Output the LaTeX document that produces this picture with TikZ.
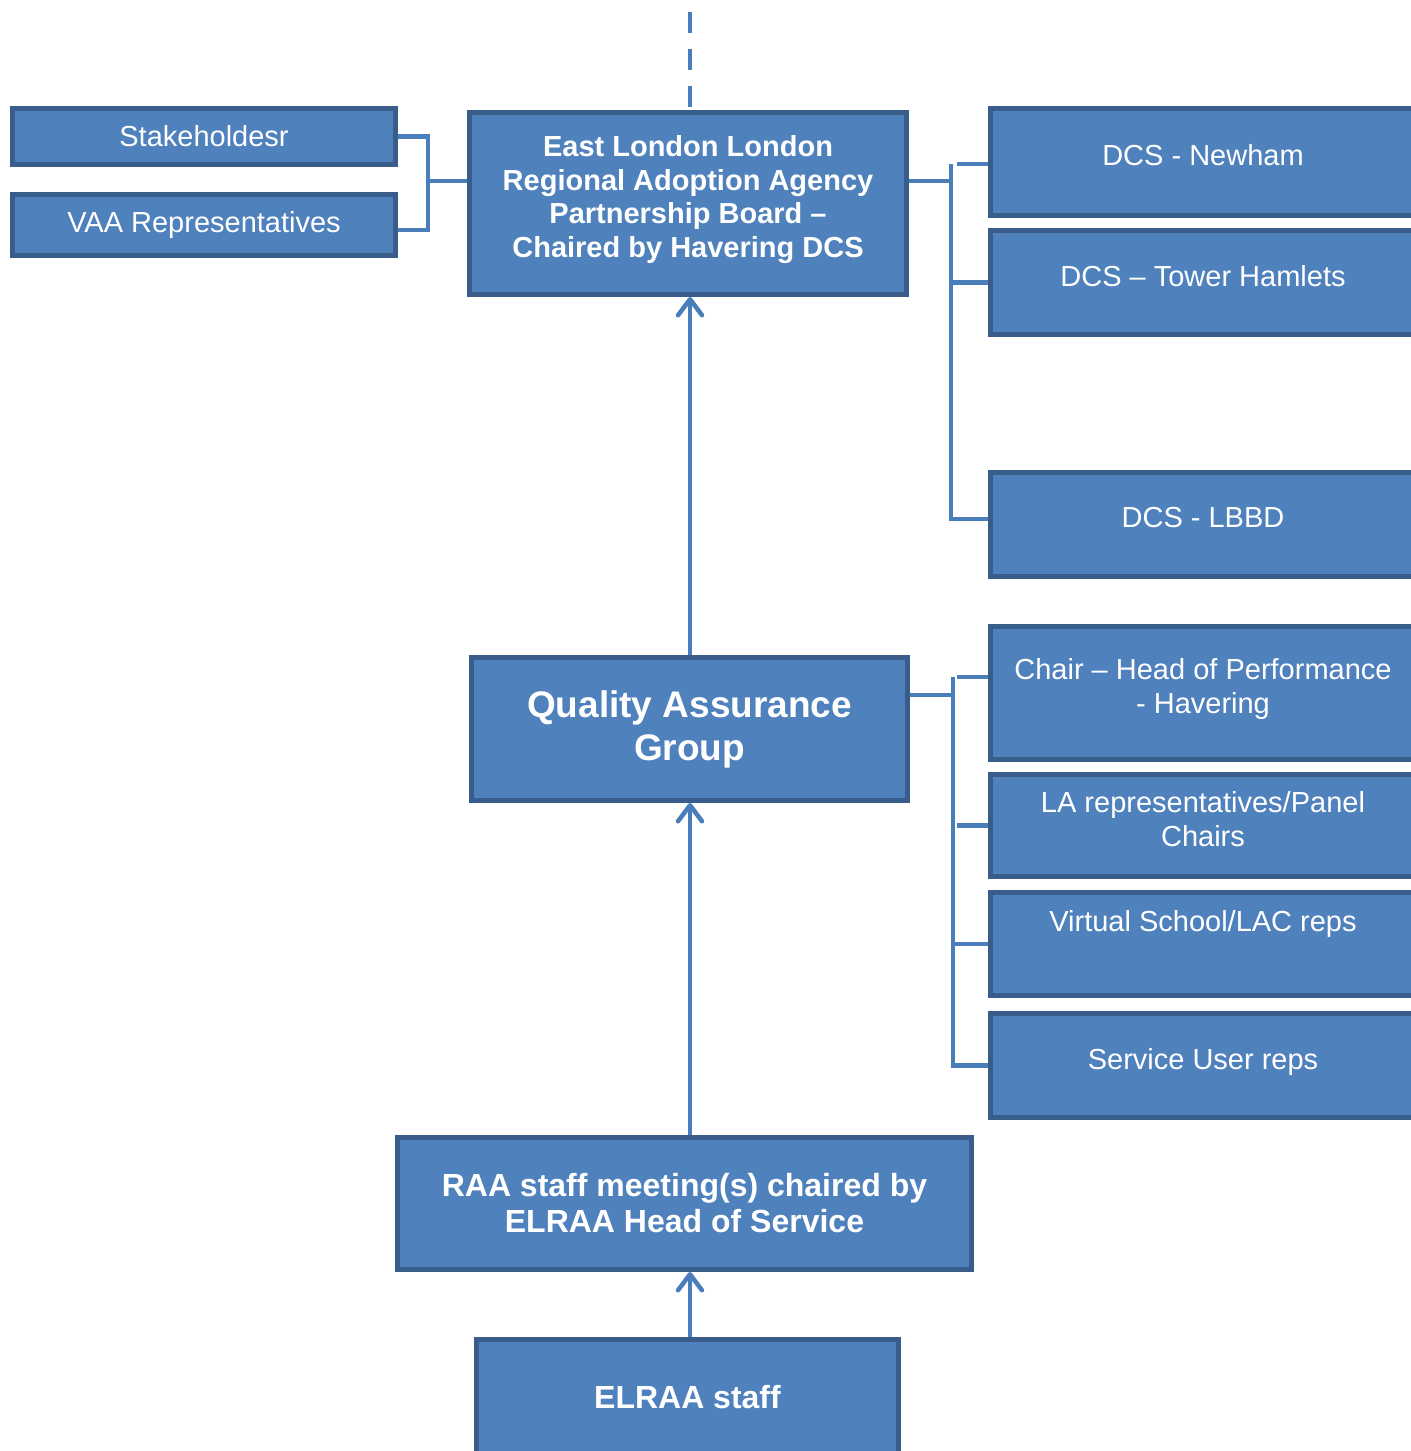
\documentclass[tikz,border=0pt]{standalone}
\usepackage{fontspec}
\setmainfont{Liberation Sans}
\usetikzlibrary{arrows.meta}
\newcommand{\pxl}{0.5pt}
\definecolor{boxfill}{HTML}{4F81BD}
\definecolor{boxline}{HTML}{385D8A}
\definecolor{linkblue}{HTML}{4A7EBB}

\begin{document}
\begin{tikzpicture}[x=\pxl, y=-\pxl,
    rect/.style={draw=boxline, fill=boxfill, line width=2.5pt, text=white, align=center, inner sep=0pt},
    plain/.style={font=\fontsize{14.5}{17}\selectfont},
    member/.style={rect, plain, lift, minimum width=425*\pxl},
    lift/.style={execute at end node={\rule[-#1]{0pt}{0pt}}}, lift/.default=7pt,
    link/.style={draw=linkblue, line width=2.25pt},
    up/.style={link, -{Straight Barb[length=8pt, width=12pt, round]}}]
    \useasboundingbox (0,0) rectangle (1410,1451);

    % Board and who sits on it
    \node[rect, plain, minimum width=383*\pxl, minimum height=56*\pxl] (stake) at (204,136.5) {Stakeholdesr};
    \node[rect, plain, minimum width=383*\pxl, minimum height=61*\pxl] (vaa) at (204,225) {VAA Representatives};
    \node[rect, lift, font=\bfseries\fontsize{14.5}{16.75}\selectfont, minimum width=437*\pxl, minimum height=182*\pxl] (board) at (688,203.5) {East London London\\Regional Adoption Agency\\Partnership Board –\\Chaired by Havering DCS};
    \node[member, minimum height=107*\pxl] (newham) at (1203,162) {DCS - Newham};
    \node[member, minimum height=104*\pxl] (tower) at (1203,282.5) {DCS – Tower Hamlets};
    \node[member, minimum height=104*\pxl] (lbbd) at (1203,524.5) {DCS - LBBD};

    % Quality Assurance Group
    \node[rect, font=\bfseries\fontsize{18.5}{21.5}\selectfont, minimum width=436*\pxl, minimum height=143*\pxl] (qa) at (689.5,729) {Quality Assurance\\Group};
    \node[member, minimum height=133*\pxl] (chair) at (1203,693) {Chair – Head of Performance\\- Havering};
    \node[member, lift=5.5pt, minimum height=102*\pxl] (la) at (1203,825.5) {LA representatives/Panel\\Chairs};
    \node[member, lift=23pt, minimum height=103*\pxl] (virtual) at (1203,944) {Virtual School/LAC reps};
    \node[member, minimum height=104*\pxl] (service) at (1203,1065.5) {Service User reps};

    % Staff level
    \node[rect, font=\bfseries\fontsize{16}{18}\selectfont, minimum width=574*\pxl, minimum height=132*\pxl] (raa) at (684.5,1203.5) {RAA staff meeting(s) chaired by\\ELRAA Head of Service};
    \node[rect, font=\bfseries\fontsize{16}{18}\selectfont, minimum width=422*\pxl, minimum height=115*\pxl] (staff) at (687.5,1397) {ELRAA staff};

    % Reporting line
    \coordinate (spine) at (690,0);
    \coordinate (top) at (690,12);
    \draw[link, dash pattern=on 10.5pt off 8pt] (top) -- (board.north -| top);
    \draw[up] (qa.north -| spine) -- (board.south -| spine);
    \draw[up] (raa.north -| spine) -- (qa.south -| spine);
    \draw[up] (staff.north -| spine) -- (raa.south -| spine);

    % Brackets
    \coordinate (lj) at (428,181);
    \draw[link] (stake.east) -| (lj) |- ([yshift=-2.5pt]vaa.east);
    \draw[link] (lj) -- (lj -| board.west);

    \coordinate (bus1) at (951,181);
    \coordinate (bus1top) at (951,164);
    \draw[link] (bus1 -| board.east) -- (bus1);
    \draw[link] (bus1top) |- ([yshift=2.75pt]lbbd.west);
    \draw[link] ([xshift=3pt]bus1top) -- (bus1top -| newham.west);
    \draw[link] (tower.west -| bus1top) -- (tower.west);

    \coordinate (bus2) at (953,695);
    \coordinate (bus2top) at (953,677);
    \draw[link] (bus2 -| qa.east) -- (bus2);
    \draw[link] (bus2top) |- (service.west);
    \draw[link] ([xshift=2pt]bus2top) -- (bus2top -| chair.west);
    \draw[link] ([xshift=2pt]la.west -| bus2top) -- (la.west);
    \draw[link] (virtual.west -| bus2top) -- (virtual.west);
\end{tikzpicture}
\end{document}
